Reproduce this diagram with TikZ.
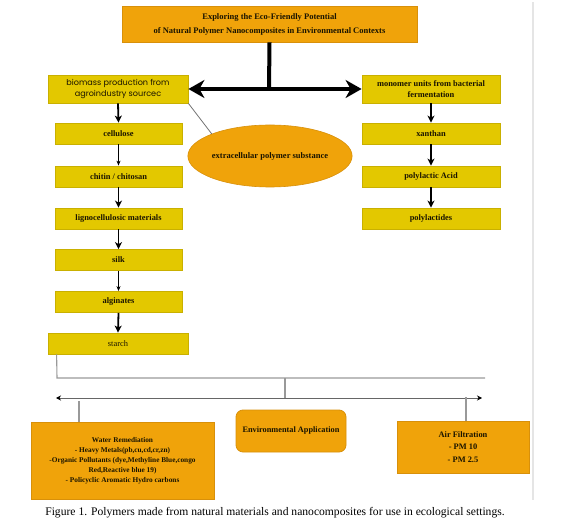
\documentclass[tikz,border=0pt]{standalone}
\usepackage{fontspec}
\setmainfont{Liberation Serif}
\newfontfamily\boxsans{Poppins}
\usetikzlibrary{arrows.meta,shapes.geometric}
\definecolor{yfill}{HTML}{E3C800}
\definecolor{ydraw}{HTML}{C9B000}
\definecolor{ofill}{HTML}{F0A30A}
\definecolor{odraw}{HTML}{D8900A}
\definecolor{connc}{HTML}{999999}
\definecolor{txt}{HTML}{1A1400}
\tikzset{
  ybox/.style={draw=ydraw, fill=yfill, line width=0.8pt, inner sep=1pt, align=center, text=txt,
    font=\fontsize{8.4}{9}\selectfont\bfseries},
  obox/.style={draw=odraw, fill=ofill, line width=0.8pt, inner sep=1pt, align=center, text=txt,
    font=\fontsize{7}{10}\selectfont\bfseries},
  thickarr/.style={line width=1.8pt, -{Stealth[length=7pt,width=7pt,inset=2pt]}},
  thinarr/.style={line width=0.7pt, -{Stealth[length=5pt,width=4pt,inset=1.5pt]}},
  conn/.style={draw=connc, line width=1.1pt},
}
\begin{document}
\begin{tikzpicture}[x=1pt,y=-1pt]
\useasboundingbox (0,0) rectangle (578,526);
% page edge line
\draw[draw=black!10, line width=1.5pt] (533,2) -- (533,500);

\node[obox, minimum width=295pt, minimum height=36pt, font=\fontsize{8.5}{14}\selectfont\bfseries] (title) at (269.5,24)
  {Exploring the Eco-Friendly Potential\\of Natural Polymer Nanocomposites in Environmental Contexts};

\node[ybox, minimum width=140pt, minimum height=28pt, font=\boxsans\fontsize{8.1}{11}\selectfont] (biomass) at (118,89)
  {biomass production from\\agroindustry sourcec};
\node[ybox, minimum width=138pt, minimum height=28pt, font=\fontsize{8.4}{11}\selectfont\bfseries] (monomer) at (431,89)
  {monomer units from bacterial\\fermentation};

\node[ybox, minimum width=127pt, minimum height=21pt] (cellulose) at (118.5,133.5) {cellulose};
\node[ybox, minimum width=127pt, minimum height=21pt] (chitin) at (118.5,176.5) {chitin / chitosan};
\node[ybox, minimum width=127pt, minimum height=21pt] (ligno) at (118.5,218.5) {lignocellulosic materials};
\node[ybox, minimum width=127pt, minimum height=21pt] (silk) at (118.5,260) {silk};
\node[ybox, minimum width=127pt, minimum height=21pt] (alginates) at (118.5,302) {alginates};
\node[ybox, minimum width=140pt, minimum height=21pt, font=\fontsize{8.4}{9}\selectfont] (starch) at (118,343.5) {starch};

\node[ybox, minimum width=138pt, minimum height=21pt] (xanthan) at (431,133.5) {xanthan};
\node[ybox, minimum width=138pt, minimum height=21pt] (pla) at (431,176.5) {polylactic Acid};
\node[ybox, minimum width=138pt, minimum height=21pt] (plt) at (431,218.5) {polylactides};

\node[ellipse, draw=odraw, fill=ofill, line width=0.6pt, minimum width=124pt, minimum height=62pt, inner sep=0pt, text=txt,
  font=\fontsize{8.5}{9}\selectfont\bfseries] (eps) at (270,156) {extracellular polymer substance};

\node[obox, minimum width=183pt, minimum height=77pt, font=\fontsize{7.3}{10}\selectfont\bfseries] (water) at (122.5,460.5)
  {Water Remediation\\- Heavy Metals(pb,cu,cd,cr,zn)\\-Organic Pollutants (dye,Methyline Blue,congo\\Red,Reactive blue 19)\\- Policyclic Aromatic Hydro carbons};
\node[obox, rounded corners=7pt, minimum width=110pt, minimum height=42pt, font=\fontsize{8.3}{9}\selectfont\bfseries] (env) at (291,431)
  {Environmental Application};
\node[obox, minimum width=132pt, minimum height=52pt, font=\fontsize{8.4}{12.5}\selectfont\bfseries] (air) at (463,447)
  {Air Filtration\\- PM 10\\- PM 2.5};

% main connectors
\coordinate (junc) at (269,89);
\draw[line width=4pt] (title.south) -- (junc);
\draw[line width=4.5pt, {Stealth[length=16pt,width=18pt,inset=5pt]}-{Stealth[length=16pt,width=18pt,inset=5pt]}]
  (biomass.east) -- (monomer.west);

\draw[thickarr] (biomass.south) -- (cellulose.north);
\draw[thinarr] (cellulose.south) -- (chitin.north);
\draw[thickarr] (chitin.south) -- (ligno.north);
\draw[thickarr] (ligno.south) -- (silk.north);
\draw[thinarr] (silk.south) -- (alginates.north);
\draw[thickarr] (alginates.south) -- (starch.north);

\draw[thickarr] (monomer.south) -- (xanthan.north);
\draw[thickarr] (xanthan.south) -- (pla.north);
\draw[thickarr] (pla.south) -- (plt.north);

\draw[draw=black!55, line width=0.8pt] (biomass.south east) -- (eps.north west);

% bottom bus
\coordinate (busL) at (57,378);
\coordinate (busR) at (485,378);
\coordinate (busM) at (285,378);
\coordinate (arrM) at (285,398);
\coordinate (arrL) at (56,398);
\coordinate (arrR) at (482,398);
\coordinate (wtop) at (79,401);
\coordinate (atop) at (466,397);
\draw[conn] ([xshift=9pt]starch.south west) -- (busL) -- (busR);
\draw[conn] (busM) -- (arrM);
\draw[conn, draw=black!60, line width=0.9pt, {Stealth[length=5pt,width=5pt,color=black]}-{Stealth[length=5pt,width=5pt,color=black]}] (arrL) -- (arrR);
\draw[conn] (wtop) -- (wtop |- water.north);
\draw[conn] (atop) -- (atop |- air.north);

\node[font=\fontsize{11.6}{13}\selectfont, inner sep=0pt] (caption) at (275,513)
  {Figure 1. Polymers made from natural materials and nanocomposites for use in ecological settings.};
\end{tikzpicture}
\end{document}
